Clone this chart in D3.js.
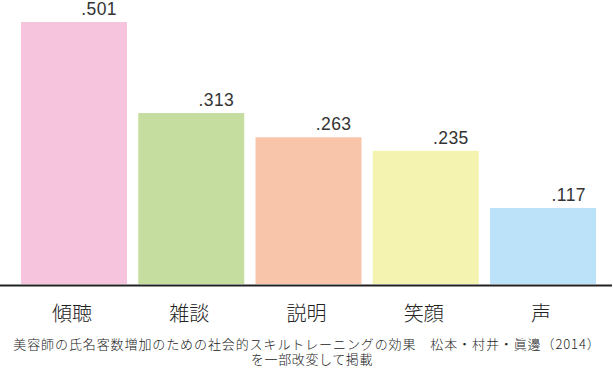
<!DOCTYPE html>
<html>
<head>
<meta charset="utf-8">
<script src="https://cdn.jsdelivr.net/npm/d3@7"></script>
<style>
  body { margin: 0; background: #fff; }
  svg { display: block; }
</style>
</head>
<body>
<svg id="chart"></svg>
<script>
const categories = ['傾聴', '雑談', '説明', '笑顔', '声'];
const values = [0.501, 0.313, 0.263, 0.235, 0.117];
const valueLabels = ['.501', '.313', '.263', '.235', '.117'];
const colors = ['#f6c4dc', '#c5dea0', '#f8c5aa', '#f4f4b0', '#bbe2f9'];
const caption = [
  '美容師の氏名客数増加のための社会的スキルトレーニングの効果　松本・村井・眞邊（2014）',
  'を一部改変して掲載'
];

const width = 613;
const height = 369;
const baseline = 284;

const svg = d3.select('#chart')
  .attr('width', width)
  .attr('height', height);

const x = d3.scaleBand()
  .domain(categories)
  .range([15.4, 601.6])
  .paddingInner(0.096)
  .paddingOuter(0.048);

const y = d3.scaleLinear()
  .domain([-0.04, 0.501])
  .range([baseline, 22]);

// bars
svg.selectAll('rect.bar')
  .data(values)
  .enter()
  .append('rect')
  .attr('class', 'bar')
  .attr('x', (d, i) => x(categories[i]))
  .attr('y', d => y(d))
  .attr('width', x.bandwidth())
  .attr('height', d => baseline - y(d))
  .attr('fill', (d, i) => colors[i]);

// value labels
svg.selectAll('text.val')
  .data(values)
  .enter()
  .append('text')
  .attr('class', 'val')
  .attr('x', (d, i) => x(categories[i]) + x.bandwidth() - 10)
  .attr('y', d => y(d) - 7)
  .attr('text-anchor', 'end')
  .attr('font-family', '"Liberation Sans", Arial, sans-serif')
  .attr('font-size', 17.5)
  .attr('letter-spacing', 0.4)
  .attr('fill', '#333')
  .text((d, i) => valueLabels[i]);

// baseline
svg.append('line')
  .attr('x1', 0)
  .attr('x2', 612)
  .attr('y1', baseline + 1.5)
  .attr('y2', baseline + 1.5)
  .attr('stroke', '#222')
  .attr('stroke-width', 2);

// category axis
const xAxis = d3.axisBottom(x).tickSize(0).tickPadding(0);
const axisG = svg.append('g')
  .attr('transform', `translate(-2, ${ baseline + 23 })`)
  .call(xAxis);
axisG.select('.domain').remove();
axisG.selectAll('text')
  .attr('font-family', '"Noto Sans CJK JP", sans-serif')
  .attr('font-weight', 300)
  .attr('font-size', 20)
  .attr('fill', '#222');

// caption
svg.selectAll('text.cap')
  .data(caption)
  .enter()
  .append('text')
  .attr('class', 'cap')
  .attr('x', (d, i) => i === 0 ? 307 : 312)
  .attr('y', (d, i) => 349 + i * 15)
  .attr('text-anchor', 'middle')
  .attr('font-family', '"Noto Sans CJK JP", sans-serif')
  .attr('font-weight', 300)
  .attr('font-size', 13)
  .attr('letter-spacing', (d, i) => i === 0 ? 0.9 : 0.6)
  .attr('fill', '#222')
  .text(d => d);
</script>
</body>
</html>
